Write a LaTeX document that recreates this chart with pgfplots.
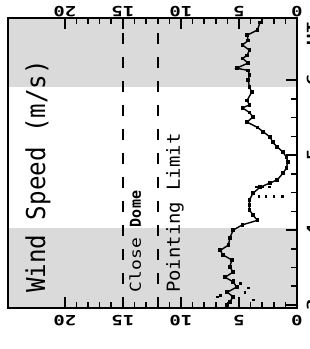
\documentclass[border=0pt]{standalone}
\usepackage{pgfplots}
\pgfplotsset{compat=1.18}
\usepackage{fontspec}
\setmainfont{DejaVu Sans Mono}
\newfontfamily\tickfont[FakeStretch=1.35]{DejaVu Sans Mono Bold}
\newfontfamily\titlefont[FakeStretch=0.93]{DejaVu Sans Mono}
\newfontfamily\labfont[FakeStretch=1.2]{DejaVu Sans Mono}
\newfontfamily\labboldfont[FakeStretch=1.0]{DejaVu Sans Mono Bold}
\newfontfamily\pointfont[FakeStretch=1.05]{DejaVu Sans Mono}
\definecolor{bandgray}{RGB}{218,218,218}
\pgfplotstableread{
w t
6.0 3.00
5.8 3.04
5.5 3.11
6.0 3.17
5.2 3.24
5.5 3.31
6.2 3.37
5.5 3.44
5.8 3.51
5.6 3.60
6.4 3.67
6.6 3.73
5.9 3.80
5.8 3.89
5.5 4.00
4.7 4.07
3.4 4.13
3.8 4.20
4.1 4.27
4.1 4.33
4.1 4.40
3.8 4.49
3.2 4.57
2.3 4.63
1.7 4.67
1.2 4.76
0.9 4.83
0.8 4.91
0.9 4.97
1.2 5.04
1.7 5.11
2.1 5.17
2.3 5.24
2.9 5.31
3.4 5.37
4.3 5.44
3.8 5.51
4.1 5.57
4.7 5.63
4.1 5.67
4.3 5.73
3.9 5.84
4.1 5.91
4.2 6.00
4.1 6.07
4.2 6.13
5.2 6.16
4.2 6.23
4.7 6.29
4.3 6.33
4.1 6.40
4.7 6.47
4.2 6.53
4.3 6.60
3.4 6.67
3.2 6.77
}\windtrace
\pgfplotstableread{
w t
6.9 3.11
6.6 3.13
5.5 3.33
4.9 3.29
4.5 3.17
4.2 3.23
5.8 3.04
3.8 3.07
1.3 4.45
2.0 4.45
2.7 4.45
3.3 4.45
2.4 4.58
3.0 4.58
3.5 4.58
}\windextra
\begin{document}
\begin{tikzpicture}
\path[use as bounding box] (0,0) rectangle (310pt,349pt);
\begin{axis}[at={(8pt,41pt)}, anchor=south west, width=289pt, height=290pt, scale only axis,
  x dir=reverse, xmin=0, xmax=24.9, ymin=2.96, ymax=6.83,
  xtick={0,5,10,15,20}, minor x tick num=4,
  ytick={3,4,5,6}, minor y tick num=3,
  ytick pos=right, yticklabel pos=right,
  xtick pos=both, xticklabel pos=lower,
  tick align=inside,
  major tick length=11pt, minor tick length=6pt,
  every tick/.style={black, line width=1.6pt},
  axis line style={line width=1.6pt},
  axis on top,
  /pgf/number format/assume math mode=true,
  xticklabel style={font=\tickfont\fontsize{14}{14}\selectfont, rotate=180, anchor=center, inner sep=0pt},
  xticklabel shift=12.5pt,
  yticklabel style={font=\tickfont\fontsize{14}{14}\selectfont, rotate=90, anchor=center, inner sep=0pt},
  yticklabel shift=15pt,
  extra y ticks={6.62}, extra y tick labels={UT},
  extra y tick style={major tick length=0pt},
  clip=true]
\fill[bandgray] (axis cs:0,2.9) rectangle (axis cs:25,4.03);
\fill[bandgray] (axis cs:0,5.91) rectangle (axis cs:25,6.9);
\addplot[black, line width=1.6pt, dash pattern=on 11pt off 13pt] coordinates {(15,2.96) (15,6.83)};
\addplot[black, line width=1.6pt, dash pattern=on 11pt off 13pt] coordinates {(12,2.96) (12,6.83)};
\addplot[black, line width=1.4pt, mark=square*, mark size=1.2pt] table[x=w, y=t] {\windtrace};
\addplot[black, only marks, mark=square*, mark size=0.9pt] table[x=w, y=t] {\windextra};
\node[rotate=90, anchor=base west, inner sep=0pt, font=\titlefont\fontsize{26}{26}\selectfont] at (axis cs:21.7,3.16) {Wind Speed (m/s)};
\node[rotate=90, anchor=base west, inner sep=0pt, font=\fontsize{15}{15}\selectfont] at (axis cs:13.45,3.17) {{\labfont Close }{\labboldfont Dome}};
\node[rotate=90, anchor=base west, inner sep=0pt, font=\pointfont\fontsize{18}{18}\selectfont] at (axis cs:10.1,3.16) {Pointing Limit};
\end{axis}
\begin{axis}[at={(8pt,39.5pt)}, anchor=south west, width=289pt, height=290pt, scale only axis,
  x dir=reverse, xmin=0, xmax=24.9, ymin=2.96, ymax=6.83,
  xtick={0,5,10,15,20}, xticklabel pos=upper, xtick style={draw=none},
  axis line style={draw=none}, hide y axis,
  /pgf/number format/assume math mode=true,
  xticklabel style={font=\tickfont\fontsize{14}{14}\selectfont, rotate=180, anchor=center, inner sep=0pt},
  xticklabel shift=8pt]
\end{axis}
\end{tikzpicture}
\end{document}
